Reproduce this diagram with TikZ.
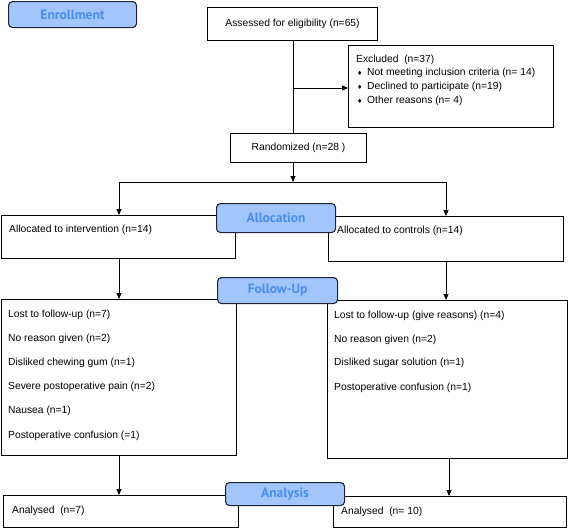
\documentclass[tikz,border=0pt]{standalone}
\usepackage{fontspec}
\setmainfont{Liberation Sans}
\newfontfamily\labfont{PT Sans}
\newfontfamily\symfont{DejaVu Sans}
\usetikzlibrary{arrows.meta}
\definecolor{labfill}{HTML}{A2C6FC}
\definecolor{labtext}{HTML}{4A8DE8}
\definecolor{labline}{HTML}{1E2433}
\begin{document}
\begin{tikzpicture}[x=1pt,y=-1pt,
 box/.style={draw=black, line width=1.1pt, fill=white, inner sep=0pt, anchor=north west, font=\fontsize{10.3}{12}\selectfont},
 lab/.style={draw=labline, line width=1.1pt, fill=labfill, rounded corners=4pt, inner sep=0pt, anchor=north west, text=labtext, font=\labfont\bfseries\fontsize{13.5}{15}\selectfont},
 txt/.style={anchor=west, inner sep=0pt, font=\fontsize{10.3}{12}\selectfont},
 bul/.style={anchor=west, inner sep=0pt, font=\symfont\fontsize{6}{6}\selectfont},
 arr/.style={line width=0.9pt, -{Triangle[length=6pt,width=5pt]}},
 ln/.style={line width=0.9pt}]
\useasboundingbox (0,0) rectangle (568,528);
% boxes
\node[box, minimum width=170pt, minimum height=33pt] (assess) at (207,7) {Assessed for eligibility (n=65)};
\node[box, minimum width=205pt, minimum height=82pt] (excl) at (348,45) {};
\node[box, minimum width=136pt, minimum height=29pt] (rand) at (230,133) {Randomized (n=28 )};
\node[box, minimum width=234pt, minimum height=43pt] (allocL) at (1,215) {};
\node[box, minimum width=235pt, minimum height=45pt] (allocR) at (328,216) {};
\node[box, minimum width=235pt, minimum height=156pt] (fuL) at (1,299) {};
\node[box, minimum width=240pt, minimum height=158pt] (fuR) at (327,300) {};
\node[box, minimum width=235pt, minimum height=32pt] (anL) at (3,495) {};
\node[box, minimum width=233pt, minimum height=31pt] (anR) at (333,496) {};
% texts
\node[txt] (ex0) at (356,60) {Excluded\ \ (n=37)};
\node[bul] (b1) at (357,73) {♦};
\node[bul] (b2) at (357,87) {♦};
\node[bul] (b3) at (357,101) {♦};
\node[txt] (ex1) at (367,73) {Not meeting inclusion criteria (n= 14)};
\node[txt] (ex2) at (367,87) {Declined to participate (n=19)};
\node[txt] (ex3) at (367,101) {Other reasons (n= 4)};
\node[txt] (tal) at (9,230) {Allocated to intervention (n=14)};
\node[txt] (tar) at (337,231) {Allocated to controls (n=14)};
\node[txt] (fl1) at (8,315) {Lost to follow-up (n=7)};
\node[txt] (fl2) at (8,339) {No reason given (n=2)};
\node[txt] (fl3) at (8,363) {Disliked chewing gum (n=1)};
\node[txt] (fl4) at (8,387) {Severe postoperative pain (n=2)};
\node[txt] (fl5) at (8,411) {Nausea (n=1)};
\node[txt] (fl6) at (8,436) {Postoperative confusion (=1)};
\node[txt] (fr1) at (334,316) {Lost to follow-up (give reasons) (n=4)};
\node[txt] (fr2) at (334,340) {No reason given (n=2)};
\node[txt] (fr3) at (334,363) {Disliked sugar solution (n=1)};
\node[txt] (fr4) at (334,388) {Postoperative confusion (n=1)};
\node[txt] (tanl) at (12,511) {Analysed\ \ (n=7)};
\node[txt] (tanr) at (341,512) {Analysed\ \ (n= 10)};
% connectors
\coordinate (j0) at (293,88);
\coordinate (jr) at (293,182);
\coordinate (jl) at (119,182);
\coordinate (jR) at (446,182);
\coordinate (xa) at (449,0);
\draw[ln] (assess.south -| j0) -- (rand.north -| j0);
\draw[arr] (j0) -- (excl.west |- j0);
\draw[arr] (rand.south -| jr) -- (jr);
\draw[ln] (jl) -- (jR);
\draw[arr] (jl) -- (allocL.north -| jl);
\draw[arr] (jR) -- (allocR.north -| jR);
\draw[arr] (allocL.south -| jl) -- (fuL.north -| jl);
\draw[arr] (allocR.south -| jR) -- (fuR.north -| jR);
\draw[arr] (fuL.south -| jl) -- (anL.north -| jl);
\draw[arr] (fuR.south -| xa) -- (anR.north -| xa);
% stage labels
\node[lab, minimum width=128pt, minimum height=26pt] (enr) at (8,1) {Enrollment};
\node[lab, minimum width=119pt, minimum height=29pt] (labAlloc) at (216,203) {Allocation};
\node[lab, minimum width=120pt, minimum height=26pt] (labFU) at (217,277) {Follow-Up};
\node[lab, minimum width=119pt, minimum height=23pt] (labAn) at (225,482) {Analysis};
\end{tikzpicture}
\end{document}
